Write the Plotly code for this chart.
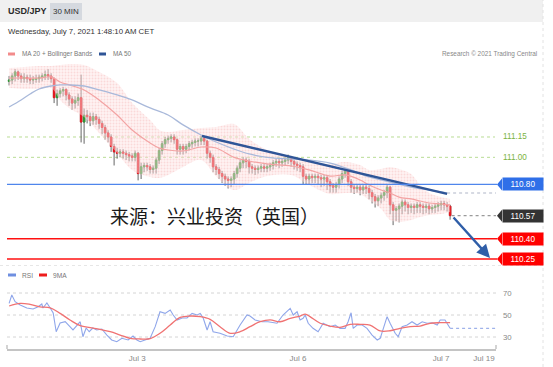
import plotly.graph_objects as go

W, H = 553, 367


def px(x):
    return x / W


def py(y):
    return 1 - y / H


# ---------------- data ----------------
open_ = [111.56,111.57,111.60,111.63,111.60,111.58,111.59,111.58,111.57,111.575,
111.58,111.59,111.60,111.61,111.60,111.58,111.44,111.47,111.49,111.50,
111.46,111.43,111.40,111.42,111.44,111.26,111.31,111.30,111.27,111.30,
111.28,111.25,111.22,111.18,111.15,111.08,111.04,111.03,111.04,111.03,
111.02,111.01,111.00,111.03,110.88,110.93,110.94,110.93,110.91,110.92,
110.98,111.05,111.10,111.13,111.14,111.15,111.13,111.06,111.08,111.06,
111.08,111.10,111.11,111.12,111.12,111.14,111.12,111.03,111.00,110.93,
110.91,110.88,110.86,110.84,110.83,110.84,110.88,110.92,110.96,110.98,
110.97,110.93,110.92,110.91,110.92,110.93,110.92,110.93,110.94,110.96,
110.97,110.96,110.97,110.98,111.00,110.97,110.95,110.94,110.93,110.86,
110.84,110.86,110.85,110.86,110.85,110.84,110.85,110.82,110.79,110.78,
110.80,110.84,110.88,110.90,110.82,110.78,110.77,110.78,110.76,110.78,
110.77,110.74,110.71,110.68,110.70,110.72,110.74,110.78,110.65,110.61,
110.62,110.64,110.67,110.65,110.63,110.64,110.63,110.65,110.64,110.63,
110.64,110.62,110.63,110.64,110.65,110.66,110.65,110.64]

close = [111.57,111.60,111.63,111.60,111.58,111.59,111.58,111.57,111.575,111.58,
111.59,111.60,111.61,111.60,111.58,111.44,111.47,111.49,111.50,111.46,
111.43,111.40,111.42,111.44,111.26,111.31,111.30,111.27,111.30,111.28,
111.25,111.22,111.18,111.15,111.08,111.04,111.03,111.04,111.03,111.02,
111.01,111.00,111.03,110.88,110.93,110.94,110.93,110.91,110.92,110.98,
111.05,111.10,111.13,111.14,111.15,111.13,111.06,111.08,111.06,111.08,
111.10,111.11,111.12,111.12,111.14,111.12,111.03,111.00,110.93,110.91,
110.88,110.86,110.84,110.83,110.84,110.88,110.92,110.96,110.98,110.97,
110.93,110.92,110.91,110.92,110.93,110.92,110.93,110.94,110.96,110.97,
110.96,110.97,110.98,111.00,110.97,110.95,110.94,110.93,110.86,110.84,
110.86,110.85,110.86,110.85,110.84,110.85,110.82,110.79,110.78,110.80,
110.84,110.88,110.90,110.82,110.78,110.77,110.78,110.76,110.78,110.77,
110.74,110.71,110.68,110.70,110.72,110.74,110.78,110.65,110.61,110.62,
110.64,110.67,110.65,110.63,110.64,110.63,110.65,110.64,110.63,110.64,
110.62,110.63,110.64,110.65,110.66,110.65,110.64,110.57]

high = [111.60,111.62,111.65,111.64,111.62,111.62,111.61,111.61,111.60,111.61,
111.61,111.62,111.64,111.65,111.62,111.59,111.50,111.51,111.52,111.51,
111.48,111.45,111.45,111.47,111.61,111.36,111.35,111.33,111.33,111.32,
111.30,111.27,111.24,111.20,111.17,111.10,111.07,111.06,111.06,111.05,
111.04,111.03,111.05,111.04,110.96,110.96,110.96,110.95,110.94,111.00,
111.07,111.12,111.15,111.16,111.17,111.17,111.14,111.10,111.10,111.10,
111.12,111.13,111.14,111.14,111.16,111.16,111.13,111.05,111.02,110.95,
110.93,110.90,110.88,110.86,110.86,110.90,110.94,110.98,111.00,111.00,
110.99,110.95,110.94,110.94,110.95,110.95,110.95,110.96,110.98,110.99,
110.99,110.99,111.00,111.02,111.01,110.99,110.97,110.96,110.95,110.88,
110.88,110.88,110.88,110.88,110.87,110.87,110.87,110.84,110.81,110.82,
110.86,110.90,110.92,110.91,110.84,110.80,110.80,110.80,110.80,110.80,
110.79,110.76,110.73,110.72,110.74,110.76,110.80,110.79,110.67,110.64,
110.66,110.69,110.69,110.67,110.66,110.66,110.67,110.67,110.66,110.66,
110.66,110.65,110.66,110.67,110.68,110.68,110.67,110.65]

low = [111.53,111.54,111.56,111.57,111.55,111.55,111.55,111.54,111.54,111.55,
111.55,111.56,111.57,111.57,111.55,111.40,111.38,111.44,111.45,111.42,
111.38,111.35,111.36,111.38,111.11,111.10,111.25,111.23,111.24,111.24,
111.21,111.17,111.13,111.11,111.04,110.94,110.99,111.00,110.99,110.98,
110.97,110.97,110.97,110.83,110.84,110.89,110.90,110.88,110.88,110.88,
110.95,111.02,111.07,111.10,111.11,111.10,111.02,111.02,111.02,111.03,
111.05,111.07,111.08,111.08,111.09,111.09,110.99,110.96,110.89,110.87,
110.84,110.81,110.79,110.77,110.78,110.80,110.85,110.89,110.92,110.92,
110.88,110.88,110.87,110.88,110.89,110.89,110.89,110.90,110.91,110.93,
110.92,110.93,110.94,110.95,110.93,110.91,110.90,110.89,110.80,110.80,
110.80,110.81,110.81,110.80,110.78,110.79,110.76,110.74,110.74,110.74,
110.77,110.81,110.85,110.79,110.74,110.73,110.74,110.72,110.73,110.73,
110.69,110.66,110.63,110.64,110.66,110.68,110.70,110.58,110.50,110.53,
110.52,110.58,110.60,110.58,110.59,110.58,110.59,110.59,110.58,110.59,
110.58,110.59,110.59,110.60,110.61,110.61,110.60,110.54]

band_idx = [0, 5, 10, 14, 17, 20, 25, 30, 36, 41, 47, 50, 53, 58, 64, 69, 75,
            80, 86, 94, 100, 107, 112, 117, 120, 124, 127, 130, 134, 137, 140, 144, 147]
bb_upper = [111.659, 111.666, 111.674, 111.674, 111.681, 111.688, 111.681, 111.629,
            111.548, 111.401, 111.275, 111.202, 111.187, 111.202, 111.216, 111.224,
            111.245, 111.135, 111.054, 111.000, 110.973, 110.951, 110.966, 110.943,
            110.907, 110.914, 110.929, 110.914, 110.877, 110.796, 110.737, 110.707, 110.693]
bb_lower = [111.511, 111.504, 111.504, 111.511, 111.423, 111.364, 111.298, 111.180,
            111.032, 110.907, 110.855, 110.848, 110.870, 110.929, 110.980, 110.860,
            110.759, 110.811, 110.862, 110.870, 110.796, 110.730, 110.737, 110.730,
            110.685, 110.619, 110.538, 110.523, 110.538, 110.560, 110.575, 110.582, 110.597]
ma20 = [111.585, 111.585, 111.585, 111.593, 111.556, 111.534, 111.497, 111.423,
        111.312, 111.202, 111.106, 111.069, 111.054, 111.047, 111.076, 111.069,
        111.000, 110.973, 110.951, 110.936, 110.907, 110.862, 110.870, 110.833,
        110.796, 110.759, 110.737, 110.707, 110.693, 110.678, 110.663, 110.656, 110.649]

ma50_idx = [0, 4, 7, 10, 14, 17, 20, 25, 30, 36, 41, 47, 53, 58, 64, 69, 75, 80,
            86, 94, 100, 107, 114, 120, 127, 134, 140, 146]
ma50 = [111.371, 111.423, 111.467, 111.504, 111.526, 111.534, 111.534, 111.526,
        111.497, 111.460, 111.423, 111.364, 111.312, 111.239, 111.165, 111.113,
        111.061, 111.025, 111.000, 110.988, 110.980, 110.958, 110.907, 110.855,
        110.818, 110.781, 110.759, 110.737]

trend_idx = [64.3, 146]
trend_val = [111.157, 110.730]

arrow_from = (147.7, 110.567)
arrow_to = (160.3, 110.258)

resist_levels = [111.15, 111.00]
pivot_level = 110.80
last_price = 110.57
support_levels = [110.40, 110.25]

rsi_idx = [0, 0.9, 2, 3.7, 5.9, 8, 9.7, 10.9, 11.3, 12.6, 13.7, 14.7, 15.7, 17, 18.7,
           20.3, 21.3, 22.7, 23.7, 24.6, 25.7, 26.7, 27.9, 29.2, 30.9, 32.6, 34.2, 35.9,
           37.6, 39.7, 41.3, 42.6, 43.7, 45.3, 47, 48.7, 50.3, 52, 53.7, 54.7, 56, 57.7,
           59.3, 61, 62.7, 63.7, 64.7, 66, 67, 68, 70.3, 72.7, 74.7, 77, 79.3, 80.3, 82,
           84.3, 86.3, 89.3, 91.3, 93.7, 94.7, 96, 97, 98, 98.7, 99.7, 101.3, 103, 104.7,
           107, 108.7, 110.3, 112, 113, 114, 114.7, 116, 117.7, 119.3, 121, 122.7, 123.7,
           124.7, 126, 127, 128.7, 129.7, 131, 132.7, 134.3, 136, 137.7, 139.3, 141,
           142.7, 143.7, 145.3, 146.3, 147]
rsi_val = [60.6, 68.2, 62.1, 59.1, 56.4, 55.5, 57.5, 60.0, 56.4, 60.9, 56.4, 51.8, 34.8,
           42.7, 43.9, 39.4, 36.4, 40.9, 43.9, 30.3, 38.2, 34.8, 38.2, 36.4, 37.3, 31.8,
           27.3, 25.7, 28.8, 27.3, 30.9, 27.3, 25.7, 27.3, 28.8, 39.4, 53.0, 51.5, 54.5,
           50.0, 45.5, 47.3, 47.3, 51.5, 50.0, 51.5, 47.3, 36.4, 43.9, 34.8, 33.4, 30.9,
           30.3, 40.9, 50.0, 49.1, 45.5, 43.9, 43.9, 42.5, 50.0, 56.1, 50.0, 53.0, 45.5,
           47.0, 50.0, 42.5, 37.9, 34.8, 42.5, 39.4, 40.9, 37.9, 37.9, 43.9, 52.1, 37.9,
           40.9, 40.9, 37.9, 31.8, 27.3, 28.8, 37.9, 48.5, 42.5, 33.4, 30.3, 39.4, 40.9,
           43.9, 40.9, 43.9, 42.5, 43.0, 40.9, 45.5, 45.5, 40.9, 37.9]

ma9_idx = [0, 3.7, 7, 10.3, 13.7, 17, 20.3, 23.7, 27, 30.3, 33.7, 37, 40.3, 43.7, 47,
           50.3, 53.7, 57, 60.3, 63.7, 67, 70.3, 73.7, 77, 80.3, 83.7, 87, 90.3, 93.7,
           97, 98.7, 100.3, 103.7, 107, 110.3, 113.7, 117, 120.3, 123.7, 127, 130.3,
           133.7, 137, 140.3, 143.7, 147]
ma9_val = [58.2, 60.6, 59.7, 57.5, 56.6, 51.5, 45.5, 40.3, 38.5, 37.0, 34.8, 31.8, 28.8,
           28.2, 28.5, 33.4, 40.9, 47.9, 49.1, 48.5, 46.1, 39.4, 33.4, 34.8, 39.4, 43.9,
           45.5, 43.9, 47.0, 49.1, 50.9, 48.5, 42.5, 40.0, 38.8, 41.5, 41.5, 40.9, 35.5,
           35.7, 37.9, 39.4, 40.0, 42.5, 43.0, 43.0]

rsi_levels = [70, 50, 30]
date_ticks = [42.7, 96.3, 144, 158.3]
date_labels = ["Jul 3", "Jul 6", "Jul 7", "Jul 19"]

# ---------------- figure ----------------
FONT = "Liberation Sans, Arial, sans-serif"
X_RANGE = [-0.7, 162.3]
GREEN, RED, WICK = "#2e9a35", "#e8161e", "#666666"
idx = list(range(len(close)))
body_top = [max(o, c) for o, c in zip(open_, close)]
body_bot = [min(o, c) for o, c in zip(open_, close)]

fig = go.Figure()

# Bollinger band fill
fig.add_trace(go.Scatter(x=band_idx, y=bb_upper, mode="lines",
                         line=dict(width=0, shape="spline", color="rgba(0,0,0,0)"),
                         hoverinfo="skip", showlegend=False))
fig.add_trace(go.Scatter(x=band_idx, y=bb_lower, mode="lines",
                         line=dict(width=0, shape="spline", color="rgba(0,0,0,0)"),
                         fill="tonexty", fillcolor="rgba(252,215,215,0.45)",
                         fillpattern=dict(shape=".", fgcolor="rgba(240,140,140,0.5)",
                                          bgcolor="rgba(253,228,228,0.45)", size=3, solidity=0.35),
                         hoverinfo="skip", showlegend=False))
# MA20
fig.add_trace(go.Scatter(x=band_idx, y=ma20, mode="lines",
                         line=dict(color="#f3a3a3", width=1.2, shape="spline"),
                         hoverinfo="skip", showlegend=False))
# MA50
fig.add_trace(go.Scatter(x=ma50_idx, y=ma50, mode="lines",
                         line=dict(color="#a9b9da", width=1.3, shape="spline"),
                         hoverinfo="skip", showlegend=False))
# candle wicks (gray) then coloured bodies
fig.add_trace(go.Candlestick(x=idx, open=open_, high=high, low=low, close=close,
                             increasing=dict(line=dict(color=WICK, width=1), fillcolor=WICK),
                             decreasing=dict(line=dict(color=WICK, width=1), fillcolor=WICK),
                             whiskerwidth=0, showlegend=False, hoverinfo="skip"))
fig.add_trace(go.Candlestick(x=idx, open=open_, high=body_top, low=body_bot, close=close,
                             increasing=dict(line=dict(color=GREEN, width=1), fillcolor=GREEN),
                             decreasing=dict(line=dict(color=RED, width=1), fillcolor=RED),
                             whiskerwidth=0, showlegend=False, hoverinfo="skip"))
# trendline
fig.add_trace(go.Scatter(x=trend_idx, y=trend_val, mode="lines",
                         line=dict(color="#2f5597", width=2.4),
                         hoverinfo="skip", showlegend=False))
# dotted last-value extensions
fig.add_trace(go.Scatter(x=[ma50_idx[-1], X_RANGE[1]], y=[ma50[-1], ma50[-1]], mode="lines",
                         line=dict(color="#b0b6c8", width=1.2, dash="dot"),
                         hoverinfo="skip", showlegend=False))
fig.add_trace(go.Scatter(x=[len(close) - 0.5, X_RANGE[1]], y=[last_price, last_price], mode="lines",
                         line=dict(color="#9a9a9a", width=1.2, dash="dot"),
                         hoverinfo="skip", showlegend=False))

# RSI
fig.add_trace(go.Scatter(x=rsi_idx, y=rsi_val, mode="lines", xaxis="x2", yaxis="y2",
                         line=dict(color="#8fa6ea", width=1.1),
                         hoverinfo="skip", showlegend=False))
fig.add_trace(go.Scatter(x=ma9_idx, y=ma9_val, mode="lines", xaxis="x2", yaxis="y2",
                         line=dict(color="#f07272", width=1.3, shape="spline"),
                         hoverinfo="skip", showlegend=False))
fig.add_trace(go.Scatter(x=[rsi_idx[-1], X_RANGE[1]], y=[rsi_val[-1], rsi_val[-1]], mode="lines",
                         xaxis="x2", yaxis="y2",
                         line=dict(color="#9fb2ea", width=1.2, dash="dot"),
                         hoverinfo="skip", showlegend=False))

shapes = []
ann = []

# header
shapes.append(dict(type="rect", xref="paper", yref="paper", x0=px(0), x1=px(543), y0=py(22), y1=py(0),
                   fillcolor="#f0f0f0", line=dict(width=0), layer="below"))
shapes.append(dict(type="rect", xref="paper", yref="paper", x0=px(50), x1=px(82), y0=py(20), y1=py(3),
                   fillcolor="#d5d9df", line=dict(width=0), layer="below"))
ann.append(dict(text="<b>USD/JPY</b>", xref="paper", yref="paper", x=px(6), y=py(11.5), xanchor="left",
                yanchor="middle", showarrow=False, font=dict(family=FONT, size=9, color="#2a2a2a")))
ann.append(dict(text="30 MIN", xref="paper", yref="paper", x=px(66), y=py(11.5), xanchor="center",
                yanchor="middle", showarrow=False, font=dict(family=FONT, size=8, color="#333")))
ann.append(dict(text="Wednesday, July 7, 2021 1:48:10 AM CET", xref="paper", yref="paper", x=px(6),
                y=py(31), xanchor="left", yanchor="middle", showarrow=False,
                font=dict(family=FONT, size=7.8, color="#333")))
# legends
shapes.append(dict(type="rect", xref="paper", yref="paper", x0=px(8), x1=px(15), y0=py(55.5), y1=py(52.5),
                   fillcolor="#f28b8b", line=dict(width=0)))
ann.append(dict(text="MA 20 + Bollinger Bands", xref="paper", yref="paper", x=px(20), y=py(54),
                xanchor="left", yanchor="middle", showarrow=False, font=dict(family=FONT, size=6.4, color="#777")))
shapes.append(dict(type="rect", xref="paper", yref="paper", x0=px(99), x1=px(106), y0=py(55.5), y1=py(52.5),
                   fillcolor="#2f5597", line=dict(width=0)))
ann.append(dict(text="MA 50", xref="paper", yref="paper", x=px(111), y=py(54),
                xanchor="left", yanchor="middle", showarrow=False, font=dict(family=FONT, size=6.4, color="#777")))
ann.append(dict(text="Research © 2021 Trading Central", xref="paper", yref="paper", x=px(539), y=py(54),
                xanchor="right", yanchor="middle", showarrow=False, font=dict(family=FONT, size=6.4, color="#888")))
shapes.append(dict(type="rect", xref="paper", yref="paper", x0=px(8), x1=px(16), y0=py(276.5), y1=py(273.5),
                   fillcolor="#6f8fe0", line=dict(width=0)))
ann.append(dict(text="RSI", xref="paper", yref="paper", x=px(20), y=py(275),
                xanchor="left", yanchor="middle", showarrow=False, font=dict(family=FONT, size=6.6, color="#777")))
shapes.append(dict(type="rect", xref="paper", yref="paper", x0=px(39), x1=px(47), y0=py(276.5), y1=py(273.5),
                   fillcolor="#ee1c1c", line=dict(width=0)))
ann.append(dict(text="9MA", xref="paper", yref="paper", x=px(51), y=py(275),
                xanchor="left", yanchor="middle", showarrow=False, font=dict(family=FONT, size=6.6, color="#777")))

# borders / separators
shapes.append(dict(type="line", xref="paper", yref="paper", x0=px(543), x1=px(543), y0=0, y1=1,
                   line=dict(color="#e2e2e2", width=1, dash="dot")))
shapes.append(dict(type="line", xref="paper", yref="paper", x0=0, x1=px(543), y0=py(265.5), y1=py(265.5),
                   line=dict(color="#e6e6e6", width=1, dash="dot")))

# price levels
for lv in resist_levels:
    shapes.append(dict(type="line", xref="paper", yref="y", x0=px(7), x1=px(495), y0=lv, y1=lv,
                       line=dict(color="#b9dc95", width=1, dash="dot"), layer="below"))
    ann.append(dict(text=f"{lv:.2f}", xref="paper", yref="y", x=px(501), y=lv, xanchor="left",
                    yanchor="middle", showarrow=False, font=dict(family=FONT, size=8.2, color="#7cb342")))
shapes.append(dict(type="line", xref="paper", yref="y", x0=px(7), x1=px(497), y0=pivot_level, y1=pivot_level,
                   line=dict(color="#4f86ec", width=1.2)))
for lv in support_levels:
    shapes.append(dict(type="line", xref="paper", yref="y", x0=px(7), x1=px(497), y0=lv, y1=lv,
                       line=dict(color="#ff1010", width=1.6)))


def tag(level, color):
    shapes.append(dict(type="path", xref="paper", yref="y", xsizemode="pixel", ysizemode="pixel",
                       xanchor=px(502), yanchor=level, path="M 0 -6 L -5 0 L 0 6 Z",
                       fillcolor=color, line=dict(width=0)))
    ann.append(dict(text=f"{level:.2f}", xref="paper", yref="y", x=px(501.5), y=level, xanchor="left",
                    yanchor="middle", showarrow=False, bgcolor=color, width=38, height=10, borderpad=1,
                    font=dict(family=FONT, size=8.2, color="#ffffff")))


tag(pivot_level, "#2f6fe8")
tag(last_price, "#333333")
for lv in support_levels:
    tag(lv, "#ff0000")

# RSI levels
for lv in rsi_levels:
    shapes.append(dict(type="line", xref="paper", yref="y2", x0=px(7), x1=px(497), y0=lv, y1=lv,
                       line=dict(color="#d4d4d4", width=1, dash="dot"), layer="below"))
    ann.append(dict(text=str(lv), xref="paper", yref="y2", x=px(501), y=lv, xanchor="left",
                    yanchor="middle", showarrow=False, font=dict(family=FONT, size=7.8, color="#888")))
# axis end ticks
for xx in (7, 496):
    shapes.append(dict(type="line", xref="paper", yref="paper", x0=px(xx), x1=px(xx), y0=py(349), y1=py(345),
                       line=dict(color="#c4c4c4", width=1.5)))

# Chinese caption
ann.append(dict(text="来源：兴业投资（英国）", xref="paper", yref="paper", x=px(108), y=py(215),
                xanchor="left", yanchor="middle", showarrow=False,
                font=dict(family="Noto Sans CJK SC", size=19, color="#1a1a1a")))

# arrow
ann.append(dict(x=arrow_to[0], y=arrow_to[1], ax=arrow_from[0], ay=arrow_from[1], xref="x", yref="y",
                axref="x", ayref="y", text="", showarrow=True, arrowhead=2, arrowsize=1.1,
                arrowwidth=2.4, arrowcolor="#2f5ea8"))

fig.update_layout(
    width=W, height=H, margin=dict(l=0, r=0, t=0, b=0),
    paper_bgcolor="white", plot_bgcolor="rgba(0,0,0,0)",
    showlegend=False, shapes=shapes, annotations=ann,
    xaxis=dict(domain=[px(7), px(496)], range=X_RANGE, anchor="y", showticklabels=False,
               showgrid=False, zeroline=False, showline=False, rangeslider=dict(visible=False), fixedrange=True),
    yaxis=dict(domain=[py(265), py(62)], range=[110.206, 111.703], showticklabels=False,
               showgrid=False, zeroline=False, fixedrange=True),
    xaxis2=dict(domain=[px(7), px(496)], range=X_RANGE, anchor="y2", tickvals=date_ticks,
                ticktext=date_labels, tickfont=dict(family=FONT, size=8, color="#888"),
                showgrid=False, zeroline=False, showline=True, linecolor="#c4c4c4", linewidth=2,
                ticks="", fixedrange=True, rangeslider=dict(visible=False)),
    yaxis2=dict(domain=[py(349), py(285)], range=[19.1, 77.3], showticklabels=False,
                showgrid=False, zeroline=False, fixedrange=True),
)

fig.write_html("out.html", config={"displayModeBar": False},
               post_script="document.body.style.margin='0';document.body.style.padding='0';")
